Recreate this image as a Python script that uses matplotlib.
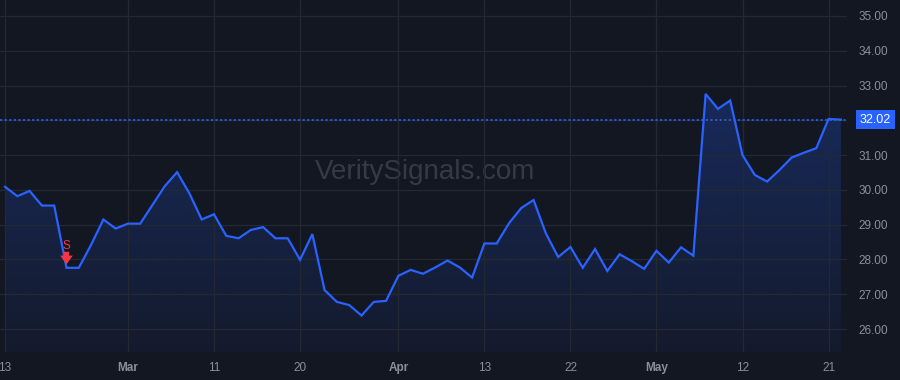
import numpy as np
import matplotlib
matplotlib.use("Agg")
import matplotlib.pyplot as plt
import matplotlib.transforms as mtransforms
from matplotlib.patches import Polygon

# ---- data ----
prices = [30.09, 29.82, 29.97, 29.55, 29.55, 27.76, 27.76, 28.42, 29.15, 28.89,
          29.03, 29.03, 29.57, 30.11, 30.51, 29.90, 29.15, 29.30, 28.68, 28.61,
          28.85, 28.93, 28.61, 28.61, 27.99, 28.73, 27.12, 26.78, 26.69, 26.39,
          26.78, 26.81, 27.53, 27.70, 27.59, 27.77, 27.97, 27.77, 27.48, 28.46,
          28.46, 29.04, 29.48, 29.71, 28.75, 28.07, 28.36, 27.76, 28.30, 27.67,
          28.15, 27.95, 27.73, 28.25, 27.91, 28.35, 28.11, 32.76, 32.33, 32.57,
          31.00, 30.43, 30.24, 30.57, 30.93, 31.07, 31.20, 32.04, 32.02]
tick_idx = [0, 10, 17, 24, 32, 39, 46, 53, 60, 67]
tick_labels = ['13', 'Mar', '11', '20', 'Apr', '13', '22', 'May', '12', '21']
month_labels = {'Mar', 'Apr', 'May'}
y_ticks = [26, 27, 28, 29, 30, 31, 32, 33, 34, 35]
last_price = 32.02
signal_idx = 5
signal_label = 'S'
watermark = 'VeritySignals.com'

BG = '#131722'
GRID = '#242833'
LINE = '#2962ff'
TXT = '#8b8f9a'

plt.rcParams['font.family'] = ['Liberation Sans', 'DejaVu Sans']

fig = plt.figure(figsize=(9, 3.8), dpi=100, facecolor=BG)
ax = fig.add_axes([0, 28 / 380, 847 / 900, 352 / 380], facecolor=BG)

x = np.arange(len(prices))
y = np.array(prices)

ax.set_xlim(-0.41, 68.5)
ax.set_ylim(25.34, 35.46)

# gradient fill
ymin_ax = 25.34
ytop = y.max()
grad = np.linspace(0.05, 0.26, 256).reshape(-1, 1)
rgba = np.zeros((256, 1, 4))
rgba[..., 0] = 41 / 255
rgba[..., 1] = 98 / 255
rgba[..., 2] = 255 / 255
rgba[..., 3] = grad
im = ax.imshow(rgba, extent=[x[0], x[-1], ymin_ax, ytop], origin='lower',
               aspect='auto', zorder=1, interpolation='bilinear')
verts = np.column_stack([np.concatenate([[x[0]], x, [x[-1]]]),
                         np.concatenate([[ymin_ax], y, [ymin_ax]])])
poly = Polygon(verts, closed=True, facecolor='none', edgecolor='none')
ax.add_patch(poly)
im.set_clip_path(poly)

ax.plot(x, y, color=LINE, lw=1.6, zorder=3, solid_joinstyle='miter')

# last price dotted line
ax.axhline(last_price, color=LINE, lw=1.1, ls=(0, (1.5, 1.5)), zorder=2)

# grid
ax.set_xticks(tick_idx)
ax.set_yticks(y_ticks)
ax.grid(True, color=GRID, lw=0.9, zorder=0)
for s in ax.spines.values():
    s.set_visible(False)
ax.tick_params(length=0)
ax.yaxis.tick_right()
# the 32.00 label sits under the last-price tag
ax.set_yticklabels([('' if v == 32 else f'{v:.2f}') for v in y_ticks],
                   color=TXT, fontsize=8.5)
ax.tick_params(axis='y', pad=8)
ax.set_xticklabels(tick_labels, color=TXT, fontsize=8.5)
for lbl in ax.get_xticklabels():
    if lbl.get_text() in month_labels:
        lbl.set_fontweight('bold')
ax.tick_params(axis='x', pad=7)

# price label
trans = mtransforms.blended_transform_factory(ax.transAxes, ax.transData)
ax.text(1.0 + 13 / 847, last_price, f'{last_price:.2f}', transform=trans,
        color='white', fontsize=9, ha='left', va='center', zorder=5,
        bbox=dict(boxstyle='square,pad=0.3', facecolor=LINE, edgecolor='none'),
        clip_on=False)

# signal marker
sx, sy = signal_idx, prices[signal_idx]
ax.annotate('', xy=(sx, sy + 0.1), xytext=(sx, sy + 0.46),
            arrowprops=dict(arrowstyle='simple,head_width=0.65,head_length=0.45,tail_width=0.28',
                            color='#f23645', lw=0, mutation_scale=14,
                            shrinkA=0, shrinkB=0), zorder=4)
ax.text(sx, sy + 0.64, signal_label, color='#f23645', fontsize=8.5,
        ha='center', va='center', zorder=4)

# watermark
ax.text(0.502, 0.51, watermark, transform=ax.transAxes, color='#363a45',
        fontsize=20, ha='center', va='center', zorder=0.5)

fig.savefig('out.png', dpi=100, facecolor=BG)
